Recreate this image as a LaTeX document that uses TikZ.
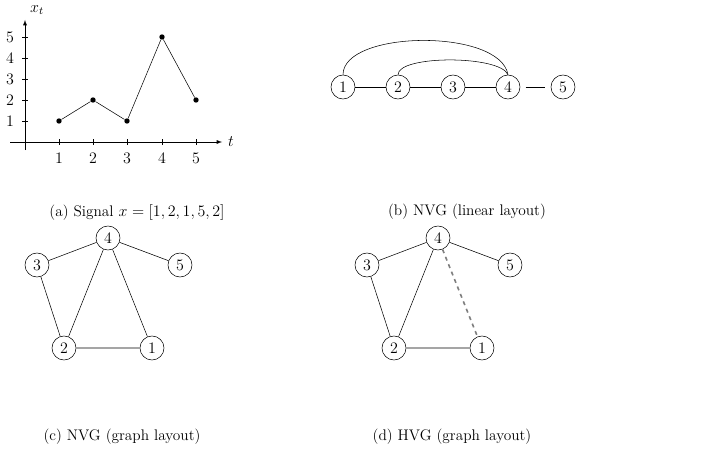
\documentclass[tikz,border=0pt]{standalone}
\begin{document}
\begin{tikzpicture}[x=0.75pt,y=-0.75pt,
  every node/.style={font=\fontsize{11.5}{13}\selectfont},
  v/.style={circle,draw,minimum size=18pt,inner sep=0pt},
  lbl/.style={inner sep=0pt},
  dot/.style={circle,fill,inner sep=0pt,minimum size=4pt}]
\useasboundingbox (0,0) rectangle (706,467);
% (a)
\coordinate (xs) at (10,142); \coordinate (xe) at (222,142);
\coordinate (ys) at (25,150); \coordinate (ye) at (25,20);
\draw[-latex] (xs) -- (xe);
\draw[-latex] (ys) -- (ye);
\node[lbl] (xl) at (37,10) {$x_t$};
\node[lbl] (tl) at (231,142) {$t$};
\foreach \i/\x in {1/59,2/93,3/127,4/162,5/196}{
  \draw (\x,139) -- (\x,145);
  \node[lbl] (tx\i) at (\x,158) {$\i$};}
\foreach \i/\y in {1/121,2/100,3/79,4/58,5/37}{
  \draw (22,\y) -- (28,\y);
  \node[lbl] (ty\i) at (10,\y) {$\i$};}
\node[dot] (p1) at (59,121) {};
\node[dot] (p2) at (93,100) {};
\node[dot] (p3) at (127,121) {};
\node[dot] (p4) at (162,37) {};
\node[dot] (p5) at (196,100) {};
\draw (p1)--(p2)--(p3)--(p4)--(p5);
\node[lbl] (ca) at (137,212) {(a) Signal $x=[1,2,1,5,2]$};
% (b)
\foreach \i/\x in {1/343,2/398,3/453,4/508,5/563}{
  \node[v] (b\i) at (\x,87) {$\i$};}
\draw[shorten <=4pt,shorten >=4pt] (b1)--(b2) (b2)--(b3) (b3)--(b4) (b4)--(b5);
\draw (b1.north) .. controls (343,30) and (500,28) .. (b4.north);
\draw (b2.north) .. controls (398,55) and (500,55) .. (b4.north);
\node[lbl] (cb) at (467,212) {(b) NVG (linear layout)};
% (c)
\node[v] (c4) at (108,238) {$4$};
\node[v] (c3) at (37,265) {$3$};
\node[v] (c5) at (180,265) {$5$};
\node[v] (c2) at (64,348) {$2$};
\node[v] (c1) at (152,348) {$1$};
\draw (c4)--(c3) (c4)--(c5) (c4)--(c2) (c4)--(c1) (c3)--(c2) (c2)--(c1);
\node[lbl] (cc) at (122,437) {(c) NVG (graph layout)};
% (d)
\node[v] (d4) at (438,238) {$4$};
\node[v] (d3) at (367,265) {$3$};
\node[v] (d5) at (510,265) {$5$};
\node[v] (d2) at (394,348) {$2$};
\node[v] (d1) at (482,348) {$1$};
\draw (d4)--(d3) (d4)--(d5) (d4)--(d2) (d3)--(d2) (d2)--(d1);
\draw[gray,dashed,line width=1.2pt] (d4)--(d1);
\node[lbl] (cd) at (452,437) {(d) HVG (graph layout)};
\end{tikzpicture}
\end{document}
